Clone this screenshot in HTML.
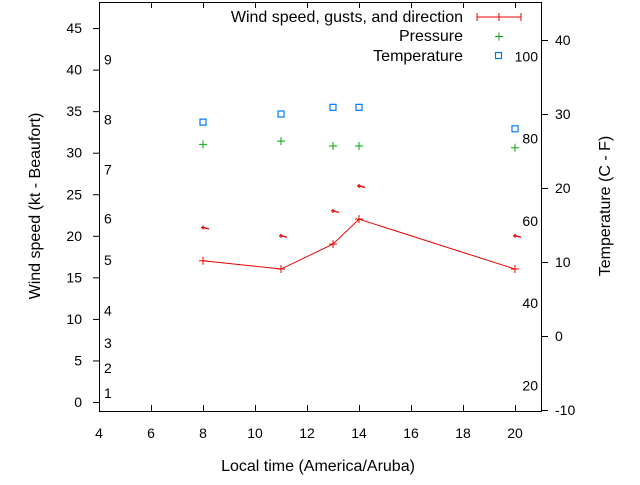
<!DOCTYPE html>
<html><head><meta charset="utf-8"><style>
body{margin:0;background:#fff}
svg text{font-family:"Liberation Sans",sans-serif;font-size:14px;fill:#000}
svg text.big{font-size:16px}
</style></head><body>
<svg id="chart" width="640" height="480" xmlns="http://www.w3.org/2000/svg">
<g id="axes"></g><g id="marks"></g>
<text class="big" x="318" y="471" text-anchor="middle">Local time (America/Aruba)</text>
<text class="big" transform="translate(40,206) rotate(-90)" text-anchor="middle">Wind speed (kt - Beaufort)</text>
<text class="big" transform="translate(610,206) rotate(-90)" text-anchor="middle">Temperature (C - F)</text>
<g>
<text class="big" x="463" y="22" text-anchor="end">Wind speed, gusts, and direction</text>
<line x1="477" y1="17" x2="521" y2="17" stroke="#e00" stroke-width="1"/>
<line x1="477" y1="13" x2="477" y2="21" stroke="#e00"/><line x1="521" y1="13" x2="521" y2="21" stroke="#e00"/><line x1="499" y1="13" x2="499" y2="21" stroke="#e00"/>
<text class="big" x="463" y="41" text-anchor="end">Pressure</text>
<path d="M495 36.5h8M499 32.5v8" stroke="#0a0" fill="none"/>
<text class="big" x="463" y="61" text-anchor="end">Temperature</text>
<rect x="495.5" y="52.5" width="6" height="6" stroke="#07f" fill="none" stroke-width="1.2"/>
</g>
</svg>
<script>
const times=[8,11,13,14,20];
const speeds=[17,16,19,22,16];
const gusts=[21,20,23,26,20];
const pressure=[31.0,31.4,30.8,30.8,30.6];
const temps=[28.9,30.0,30.9,30.9,28.0];
const xTicks=[4,6,8,10,12,14,16,18,20];
const yTicks=[0,5,10,15,20,25,30,35,40,45];
const y2Ticks=[-10,0,10,20,30,40];
const beaufortLabels=["1","2","3","4","5","6","7","8","9"];
const beaufortVals=[1.1,4.1,7.1,11,17.1,22.1,28,34,41.2];
const fLabels=["20","40","60","80","100"];
const fVals=[20,40,60,80,100];
const L=99,R=541,T=2,B=411;
const X=v=>L+(v-4)*(R-L)/17;
const Y=v=>402-v*8.31;
const Y2=v=>40+(40-v)*7.4;
const NS="http://www.w3.org/2000/svg";
const ax=document.getElementById('axes'),mk=document.getElementById('marks');
function el(t,a,p,txt){const e=document.createElementNS(NS,t);for(const k in a)e.setAttribute(k,a[k]);if(txt!==undefined)e.textContent=txt;p.appendChild(e);return e;}
const fr=el('rect',{x:L+.5,y:T+.5,width:R-L,height:B-T,fill:'none',stroke:'#000'},ax);


xTicks.forEach(v=>{const x=X(v)+.5;el('line',{x1:x,x2:x,y1:B,y2:B-6,stroke:'#000'},ax);el('line',{x1:x,x2:x,y1:T,y2:T+6,stroke:'#000'},ax);
const t=el('text',{x:X(v),y:438,'text-anchor':'middle'},ax,v);

});
yTicks.forEach(v=>{const y=Y(v)+.5;el('line',{x1:L-6,x2:L,y1:y,y2:y,stroke:'#000'},ax);
const t=el('text',{x:82,y:Y(v)+5,'text-anchor':'end'},ax,v);

});
y2Ticks.forEach(v=>{const y=Y2(v)+.5;el('line',{x1:R,x2:R+7,y1:y,y2:y,stroke:'#000'},ax);
const t=el('text',{x:555,y:Y2(v)+5},ax,v);

});
beaufortLabels.forEach((s,i)=>{const t=el('text',{x:104,y:Y(beaufortVals[i])+5},ax,s);

});
fLabels.forEach((s,i)=>{const c=(fVals[i]-32)*5/9;const t=el('text',{x:538,y:Y2(c)+5,'text-anchor':'end'},ax,s);

});
const pl=el('polyline',{points:times.map((t,i)=>X(t)+','+Y(speeds[i])).join(' '),fill:'none',stroke:'#e00'},mk);


times.forEach((t,i)=>{const x=X(t),y=Y(speeds[i]);
const p=el('path',{d:`M${x-4} ${y}h8M${x} ${y-4}v8`,stroke:'#e00',fill:'none'},mk);


const gy=Y(gusts[i]);
const g=el('path',{d:`M${x-2} ${gy}h4M${x} ${gy-2}v4M${x} ${gy}l6 1.5`,stroke:'#e00',fill:'none','stroke-width':1.3},mk);


const py=Y(pressure[i]);
const pp=el('path',{d:`M${x-4} ${py}h8M${x} ${py-4}v8`,stroke:'#0a0',fill:'none'},mk);


const r=el('rect',{x:x-3,y:Y2(temps[i])-3,width:6,height:6,fill:'none',stroke:'#07f','stroke-width':1.2},mk);

});
</script>
</body></html>
